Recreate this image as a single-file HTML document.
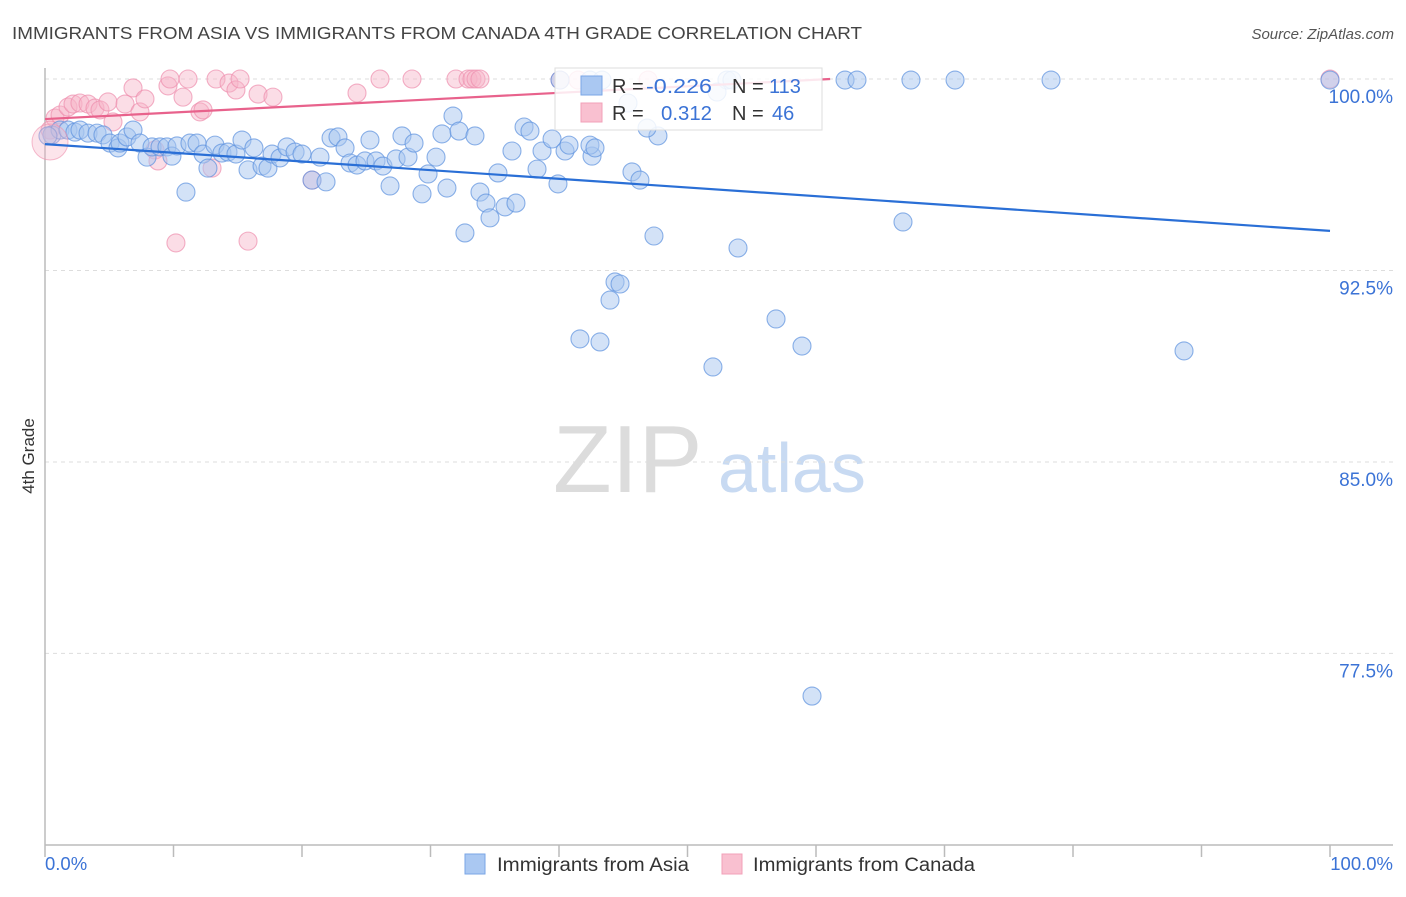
<!DOCTYPE html>
<html><head><meta charset="utf-8"><style>
body{margin:0;background:#fff;font-family:"Liberation Sans",sans-serif;}
svg text{font-family:"Liberation Sans",sans-serif;}
</style></head><body>
<svg id="chart" width="1406" height="892" viewBox="0 0 1406 892">
<text x="12" y="39" font-size="17.5" fill="#444" textLength="850" lengthAdjust="spacingAndGlyphs">IMMIGRANTS FROM ASIA VS IMMIGRANTS FROM CANADA 4TH GRADE CORRELATION CHART</text>
<text x="1394" y="39" font-size="15" fill="#555" text-anchor="end" font-style="italic">Source: ZipAtlas.com</text>
<g>
<text x="553" y="492" font-size="96" fill="#dcdcdc" font-family="Liberation Serif, serif">ZIP</text>
<text x="718" y="492" font-size="70" fill="#c8daf2">atlas</text>
</g>
<g id="grid"></g>
<line x1="45" y1="68" x2="45" y2="845" stroke="#bbb" stroke-width="1.5"/>
<line x1="45" y1="845" x2="1393" y2="845" stroke="#bbb" stroke-width="1.5"/>
<g id="xticks"></g>
<text transform="translate(34,456) rotate(-90)" font-size="17" fill="#333" text-anchor="middle">4th Grade</text>
<text x="45" y="870" font-size="18.5" fill="#3b73d6">0.0%</text>
<text x="1393" y="870" font-size="18.5" fill="#3b73d6" text-anchor="end">100.0%</text>
<g id="pts"></g>
<g id="lines"></g>
<g>
<rect x="555" y="68" width="267" height="62" fill="#fff" fill-opacity="0.85" stroke="#ddd"/>
<rect x="581" y="76" width="21" height="19" fill="#aac8f2" stroke="#7aa6e6"/>
<rect x="581" y="103" width="21" height="19" fill="#f9c0d0" stroke="#f2a0b8"/>
<text x="612" y="93" font-size="20" fill="#333">R = </text>
<text x="646" y="93" font-size="20" fill="#3b73d6" textLength="66" lengthAdjust="spacingAndGlyphs">-0.226</text>
<text x="732" y="93" font-size="20" fill="#333">N = </text>
<text x="769" y="93" font-size="20" fill="#3b73d6">113</text>
<text x="612" y="120" font-size="20" fill="#333">R = </text>
<text x="661" y="120" font-size="20" fill="#3b73d6" textLength="51" lengthAdjust="spacingAndGlyphs">0.312</text>
<text x="732" y="120" font-size="20" fill="#333">N = </text>
<text x="772" y="120" font-size="20" fill="#3b73d6">46</text>
</g>
<g>
<rect x="465" y="854" width="20" height="20" fill="#aac8f2" stroke="#7aa6e6"/>
<text x="497" y="871" font-size="19" fill="#333" textLength="192" lengthAdjust="spacingAndGlyphs">Immigrants from Asia</text>
<rect x="722" y="854" width="20" height="20" fill="#f9c0d0" stroke="#f2a0b8"/>
<text x="753" y="871" font-size="19" fill="#333" textLength="222" lengthAdjust="spacingAndGlyphs">Immigrants from Canada</text>
</g>
</svg>
<script>
const yTicks=[100,92.5,85,77.5];
const yTickLabels=["100.0%","92.5%","85.0%","77.5%"];
const xTicks=[0,10,20,30,40,50,60,70,80,90,100];
const asiaPx=[[52,135],[60,130],[68,130],[75,132],[80,130],[88,133],[97,133],[103,135],[110,143],[118,148],[120,143],[127,137],[133,130],[140,143],[147,157],[152,147],[160,147],[167,147],[172,156],[177,146],[186,192],[190,143],[197,143],[203,154],[208,168],[215,145],[222,153],[228,152],[236,154],[242,140],[248,170],[254,148],[262,166],[268,168],[272,154],[280,158],[287,147],[295,152],[302,154],[312,180],[320,157],[326,182],[331,138],[338,137],[345,148],[350,163],[357,165],[365,161],[370,140],[376,161],[383,166],[390,186],[396,159],[402,136],[408,157],[414,143],[422,194],[428,174],[436,157],[442,134],[447,188],[453,116],[459,131],[465,233],[475,136],[480,192],[486,203],[490,218],[498,173],[505,207],[512,151],[516,203],[524,127],[530,131],[537,169],[542,151],[552,139],[558,184],[565,151],[569,145],[580,339],[592,156],[600,342],[615,282],[620,284],[610,300],[632,172],[640,180],[654,236],[658,136],[647,128],[713,367],[738,248],[776,319],[802,346],[812,696],[903,222],[1184,351],[560,80],[590,80],[602,80],[727,80],[732,80],[845,80],[857,80],[911,80],[955,80],[1051,80],[1330,80],[628,103],[717,92],[48,136],[590,145],[595,148]];
const canadaPx=[[55,118],[60,115],[68,107],[73,104],[80,103],[88,104],[95,108],[100,110],[108,102],[113,122],[125,104],[133,88],[140,112],[145,99],[155,150],[158,161],[168,86],[170,79],[176,243],[183,97],[188,79],[200,112],[203,110],[212,168],[216,79],[229,83],[236,90],[240,79],[248,241],[258,94],[273,97],[312,180],[357,93],[380,79],[412,79],[456,79],[468,79],[472,79],[476,79],[480,79],[560,80],[578,80],[648,80],[1330,79],[50,130]];
const asiaX=asiaPx.map(p=>+((p[0]-45)/12.85).toFixed(2));
const asiaY=asiaPx.map(p=>+(100-(p[1]-79)/25.53).toFixed(2));
const canadaX=canadaPx.map(p=>+((p[0]-45)/12.85).toFixed(2));
const canadaY=canadaPx.map(p=>+(100-(p[1]-79)/25.53).toFixed(2));
const asiaTrend=[97.45,94.05];
const canadaTrend=[98.43,100.0];
const canadaTrendEnd=61.1;

const NS="http://www.w3.org/2000/svg";
const X0=45,X1=1330,Y100=79,PPU=25.53;
const sx=v=>X0+(X1-X0)*v/100;
const sy=v=>Y100+(100-v)*PPU;
function mk(tag,attrs,parent){const e=document.createElementNS(NS,tag);for(const k in attrs)e.setAttribute(k,attrs[k]);parent.appendChild(e);return e;}
const grid=document.getElementById('grid');
yTicks.forEach((t,i)=>{
 const l=mk('line',{x1:45,x2:1393,y1:sy(t),y2:sy(t),stroke:'#ddd','stroke-dasharray':'4,4'},grid);
 
 
 const tx=mk('text',{x:1393,y:sy(t)+24,'font-size':19,fill:'#3b73d6','text-anchor':'end'},grid);
 tx.textContent=yTickLabels[i];
 
 
});
const xt=document.getElementById('xticks');
xTicks.forEach(t=>{
 const l=mk('line',{x1:sx(t),x2:sx(t),y1:845,y2:857,stroke:'#bbb','stroke-width':1.5},xt);
 
 
});
const pts=document.getElementById('pts');
canadaX.forEach((x,i)=>{
 const c=mk('circle',{cx:sx(x),cy:sy(canadaY[i]),r:9,fill:'#f7b3c7','fill-opacity':0.45,stroke:'#ee8fae','stroke-opacity':0.7,'stroke-width':1.1},pts);
 
 
});
asiaX.forEach((x,i)=>{
 const c=mk('circle',{cx:sx(x),cy:sy(asiaY[i]),r:9,fill:'#a8c6f0','fill-opacity':0.5,stroke:'#5d92de','stroke-opacity':0.7,'stroke-width':1.1},pts);
 
 
});
const big=mk('circle',{cx:sx(canadaX[canadaX.length-1]),cy:sy(canadaY[canadaY.length-1])+12,r:18,fill:'#f7b3c7','fill-opacity':0.35,stroke:'#ee8fae','stroke-opacity':0.6},pts);


const lines=document.getElementById('lines');
const bl=mk('line',{x1:sx(0),y1:sy(asiaTrend[0]),x2:sx(100),y2:sy(asiaTrend[1]),stroke:'#2a6fd6','stroke-width':2.2},lines);


const pl=mk('line',{x1:sx(0),y1:sy(canadaTrend[0]),x2:sx(canadaTrendEnd),y2:sy(canadaTrend[1]),stroke:'#e8628c','stroke-width':2.2},lines);


</script>
</body></html>
